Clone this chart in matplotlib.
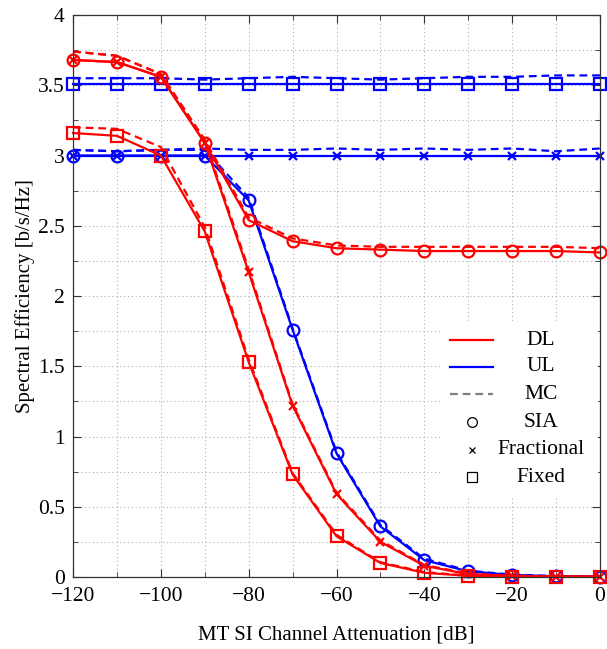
import matplotlib
matplotlib.use("Agg")
import matplotlib.pyplot as plt
from matplotlib.lines import Line2D
from matplotlib.patches import Rectangle
from matplotlib.ticker import MultipleLocator

plt.rcParams["font.family"] = ["Liberation Serif", "DejaVu Serif"]
plt.rcParams["mathtext.fontset"] = "stix"

attenuation = [-120, -110, -100, -90, -80, -70, -60, -50, -40, -30, -20, -10, 0]

# Downlink (analysis)
dl_sia = [3.68, 3.665, 3.56, 3.09, 2.54, 2.39, 2.34, 2.33, 2.32, 2.32, 2.32, 2.32, 2.31]
dl_frac = [3.68, 3.665, 3.56, 3.09, 2.17, 1.22, 0.59, 0.25, 0.08, 0.02, 0.008, 0.003, 0.002]
dl_fixed = [3.16, 3.14, 3.00, 2.46, 1.53, 0.73, 0.29, 0.10, 0.03, 0.008, 0.003, 0.002, 0.002]
# Downlink (Monte Carlo)
dl_sia_mc = [3.74, 3.71, 3.58, 3.11, 2.56, 2.41, 2.36, 2.35, 2.35, 2.35, 2.35, 2.35, 2.34]
dl_frac_mc = [3.74, 3.71, 3.58, 3.11, 2.19, 1.23, 0.60, 0.26, 0.085, 0.025, 0.01, 0.004, 0.002]
dl_fixed_mc = [3.20, 3.19, 3.06, 2.49, 1.55, 0.74, 0.30, 0.105, 0.035, 0.01, 0.004, 0.002, 0.002]

# Uplink (analysis)
ul_sia = [3.00, 3.00, 3.00, 3.00, 2.68, 1.76, 0.88, 0.36, 0.12, 0.04, 0.015, 0.005, 0.002]
ul_frac = [3.00, 3.00, 3.00, 3.00, 3.00, 3.00, 3.00, 3.00, 3.00, 3.00, 3.00, 3.00, 3.00]
ul_fixed = [3.51, 3.51, 3.51, 3.51, 3.51, 3.51, 3.51, 3.51, 3.51, 3.51, 3.51, 3.51, 3.51]
# Uplink (Monte Carlo)
ul_sia_mc = [3.04, 3.03, 3.04, 3.04, 2.70, 1.77, 0.89, 0.37, 0.13, 0.045, 0.017, 0.006, 0.002]
ul_frac_mc = [3.04, 3.03, 3.04, 3.05, 3.04, 3.04, 3.05, 3.04, 3.05, 3.04, 3.05, 3.03, 3.05]
ul_fixed_mc = [3.55, 3.55, 3.55, 3.54, 3.55, 3.56, 3.55, 3.54, 3.55, 3.56, 3.56, 3.57, 3.57]

legend_labels = ["DL", "UL", "MC", "SIA", "Fractional", "Fixed"]

RED = "#ff0000"
BLUE = "#0000ff"
LW = 1.6
MS = 8.5
DASH = (3.5, 2.2)

fig = plt.figure(figsize=(6.07, 6.49), dpi=100)
ax = fig.add_axes([73 / 607, 72 / 649, 527 / 607, 562 / 649])


def curve(y, color, marker, dashed=False):
    if dashed:
        ax.plot(attenuation, y, color=color, lw=LW, dashes=DASH, clip_on=False)
        return
    ms = 6 if marker == "x" else MS
    ax.plot(attenuation, y, color=color, lw=LW, marker=marker, ms=ms,
            mfc="none", mec=color, mew=1.6, clip_on=False)


# Uplink first, downlink on top
curve(ul_fixed_mc, BLUE, None, dashed=True)
curve(ul_frac_mc, BLUE, None, dashed=True)
curve(ul_sia_mc, BLUE, None, dashed=True)
curve(ul_fixed, BLUE, "s")
curve(ul_frac, BLUE, "x")
curve(ul_sia, BLUE, "o")

curve(dl_fixed_mc, RED, None, dashed=True)
curve(dl_frac_mc, RED, None, dashed=True)
curve(dl_sia_mc, RED, None, dashed=True)
curve(dl_fixed, RED, "s")
curve(dl_frac, RED, "x")
curve(dl_sia, RED, "o")

ax.set_xlim(-120, 0)
ax.set_ylim(0, 4)
ax.xaxis.set_major_locator(MultipleLocator(20))
ax.xaxis.set_minor_locator(MultipleLocator(10))
ax.yaxis.set_major_locator(MultipleLocator(0.5))
ax.yaxis.set_minor_locator(MultipleLocator(0.25))
ax.set_yticks([0, 0.5, 1, 1.5, 2, 2.5, 3, 3.5, 4])
ax.set_yticklabels(["0", "0.5", "1", "1.5", "2", "2.5", "3", "3.5", "4"])

ax.grid(True, which="both", color="#b0b0b0", linestyle=(0, (1, 2.5)), lw=0.8)
ax.set_axisbelow(True)
ax.tick_params(which="both", direction="in", top=True, right=True,
               labelsize=15.5, color="#333333")
ax.tick_params(which="major", length=6, width=0.8)
ax.tick_params(which="minor", length=3.5, width=0.6)
ax.tick_params(axis="x", pad=7)
ax.tick_params(axis="y", pad=6)
for s in ax.spines.values():
    s.set_color("#333333")
    s.set_linewidth(0.9)

ax.set_xlabel("MT SI Channel Attenuation [dB]", fontsize=15, labelpad=14)
ax.set_ylabel("Spectral Efficiency [b/s/Hz]", fontsize=15, labelpad=2)

# Legend drawn in axes coordinates with centered labels
T = ax.transAxes
ax.add_patch(Rectangle((0.696, 0.144), 0.30, 0.31, transform=T,
                       facecolor="white", edgecolor="none", zorder=5))
rows = [0.4217, 0.3737, 0.3256, 0.2758, 0.2260, 0.1779]
handles = [
    dict(color=RED, lw=LW),
    dict(color=BLUE, lw=LW),
    dict(color="#808080", lw=LW, dashes=DASH),
]
for yv, kw in zip(rows[:3], handles):
    ax.add_line(Line2D([0.7154, 0.797], [yv, yv], transform=T, zorder=6, **kw))
for yv, m, ms in zip(rows[3:], ["o", "x", "s"], [7, 4.5, 7]):
    ax.add_line(Line2D([0.757], [yv], transform=T, marker=m, ms=ms,
                       mfc="none", mec="black", mew=0.9, ls="none", zorder=6))
for yv, lab in zip(rows, legend_labels):
    ax.text(0.888, yv, lab, transform=T, ha="center", va="center",
            fontsize=15.5, zorder=7)

fig.savefig("out.png", dpi=100)
